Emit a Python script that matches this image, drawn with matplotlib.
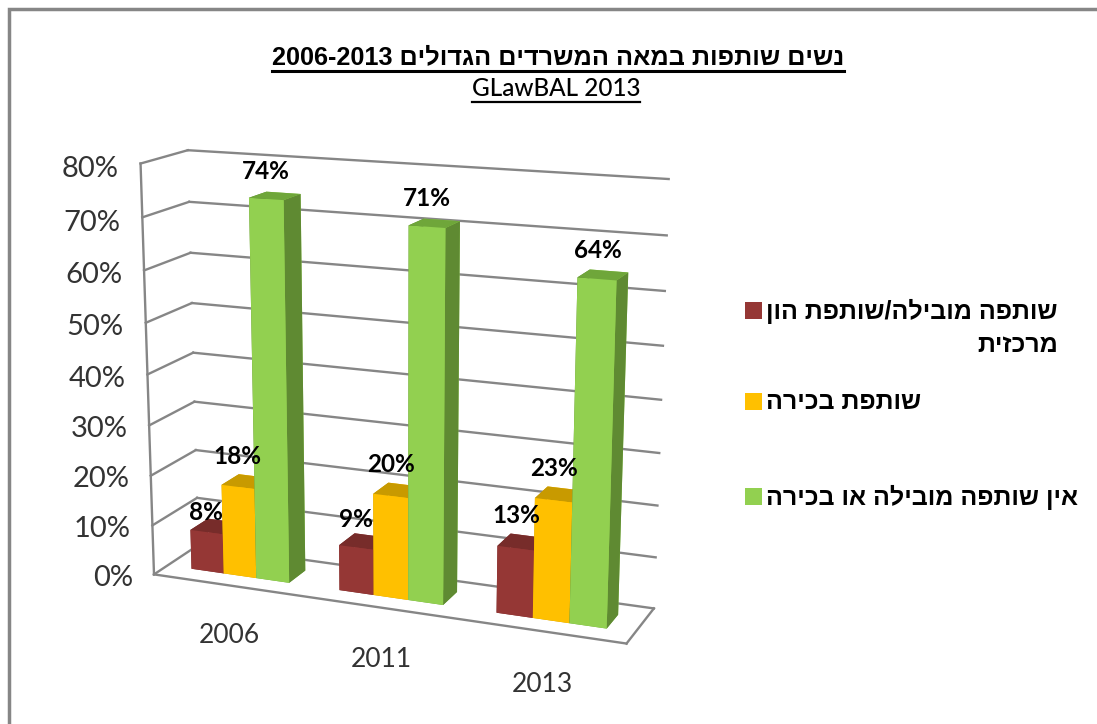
import matplotlib
matplotlib.use('Agg')
import matplotlib.pyplot as plt
import numpy as np
from matplotlib.lines import Line2D
from matplotlib.patches import Rectangle
from mpl_toolkits.mplot3d import proj3d

# --- 1. DATA ---
years = ['2006', '2011', '2013']
lead_partner = [8, 9, 13]
senior_partner = [18, 20, 23]
no_partner = [74, 71, 64]
z_ticks = [0, 10, 20, 30, 40, 50, 60, 70, 80]

title_he = 'נשים שותפות במאה המשרדים הגדולים'
title_years = '2006-2013'
subtitle = 'GLawBAL 2013'
legend_lines = ['שותפה מובילה/שותפת הון', 'מרכזית', 'שותפת בכירה', 'אין שותפה מובילה או בכירה']

# front, top and side colours per series
red = ['#953735', '#772C2A', '#772C2A']
yellow = ['#FFC000', '#C89A00', '#C89A00']
green = ['#92D050', '#6FA63A', '#5F8A32']
grid_color = '#868686'

W, H = 1097, 724
HE_FONT = ['Liberation Sans', 'DejaVu Sans']
LATIN_FONT = ['Lato', 'DejaVu Sans']


def px(x, y):
    return x / W, 1 - y / H


def heb(s):
    # matplotlib has no bidi, so Hebrew goes in visual order
    return s[::-1]


fig = plt.figure(figsize=(W / 100, H / 100), dpi=100)

# --- 2. 3D AXES ---
S = 680
cx, cy = 389, 396
ax = fig.add_axes([(cx - S / 2) / W, 1 - (cy + S / 2) / H, S / W, S / H], projection='3d')
ax.set_axis_off()
ax.patch.set_alpha(0)
ax.computed_zorder = False
ax.set_proj_type('persp', focal_length=0.55)
ax.view_init(elev=14.8, azim=-68)
ax.set_box_aspect((500, 98, 423), zoom=0.97)
ax.set_xlim(0, 3, view_margin=0)
ax.set_ylim(0, 1, view_margin=0)
ax.set_zlim(0, 80, view_margin=0)


def label3d(x, y, z, s, **kw):
    # place text at a projected 3D point, as plain 2D text
    x2, y2, _ = proj3d.proj_transform(x, y, z, ax.get_proj())
    return ax.text2D(x2, y2, s, transform=ax.transData, **kw)


# walls and floor
for z in z_ticks:
    ax.plot([0, 3], [1, 1], [z, z], color=grid_color, lw=1.7, zorder=1)
    ax.plot([0, 0], [0, 1], [z, z], color=grid_color, lw=1.7, zorder=1)
    label3d(-0.15, 0, z - 1.3, f'{z}%', ha='right', va='center', fontsize=21, color='#333333',
            family=LATIN_FONT, zorder=5)
ax.plot([0, 0], [0, 0], [0, 80], color=grid_color, lw=1.7, zorder=1)
ax.plot([0, 3], [0, 0], [0, 0], color=grid_color, lw=1.7, zorder=1)
ax.plot([3, 3], [0, 1], [0, 0], color=grid_color, lw=1.7, zorder=1)

# --- 3. BARS ---
bar_w = 1 / 4.5
margin = 0.75 * bar_w
series = [lead_partner, senior_partner, no_partner]
series_colors = [red, yellow, green]
xs, heights, face_colors = [], [], []
for i in range(len(years)):
    for j, vals in enumerate(series):
        xs.append(i + margin + j * bar_w)
        heights.append(vals[i])
        c = series_colors[j]
        # bar3d face order: bottom, top, front, back, left, right
        face_colors += [c[1], c[1], c[0], c[0], c[2], c[2]]

ax.bar3d(xs, [0.3] * len(xs), [0] * len(xs), bar_w, 0.4, heights, color=face_colors,
         shade=False, zorder=2, linewidth=0)

# data labels, lift above the bar per series and year
label_lift = [[4, 5.5, 6.3], [6, 6, 6], [5, 5, 5]]
for i in range(len(years)):
    for j, vals in enumerate(series):
        label3d(i + margin + (j + 0.5) * bar_w, 0.3, vals[i] + label_lift[j][i], f'{vals[i]}%',
                ha='center', va='center', fontsize=17.5, color='black', family=LATIN_FONT,
                weight='bold', zorder=6)

# category labels
for i, year in enumerate(years):
    label3d(i + 0.51, 0, -10.3, year, ha='center', va='center', fontsize=19, color='#333333',
            family=LATIN_FONT, zorder=5)

# --- 4. TITLE, LEGEND, FRAME ---
fig.patches.append(Rectangle(px(9, 760), (W + 20) / W, 751 / H, transform=fig.transFigure,
                             fill=False, ec='#868686', lw=2.5))

t1 = fig.text(*px(558, 57), title_years + ' ' + heb(title_he), ha='center', va='center',
              fontsize=18.2, weight='bold', family=HE_FONT, color='black')
t2 = fig.text(*px(556, 88), subtitle, ha='center', va='center', fontsize=17.5, weight='medium',
              family=LATIN_FONT, color='black')
fig.canvas.draw()
for t, lw in ((t1, 2.2), (t2, 1.6)):
    bb = t.get_window_extent()
    fig.add_artist(Line2D([bb.x0 / W, bb.x1 / W], [(bb.y0 - 2) / H] * 2, color='black', lw=lw))

swatches = [(311, red[0]), (402, yellow[0]), (497, green[0])]
for y, c in swatches:
    fig.patches.append(Rectangle(px(745, y + 8), 17 / W, 17 / H, transform=fig.transFigure,
                                 fc=c, ec='none'))
leg_kw = dict(va='center', fontsize=18, weight='bold', family=HE_FONT, color='black')
fig.text(*px(1058, 311), heb(legend_lines[0]), ha='right', **leg_kw)
fig.text(*px(1058, 345), heb(legend_lines[1]), ha='right', **leg_kw)
fig.text(*px(766, 402), heb(legend_lines[2]), ha='left', **leg_kw)
fig.text(*px(766, 497), heb(legend_lines[3]), ha='left', **leg_kw)

fig.savefig('out.png', dpi=100, facecolor='white')
